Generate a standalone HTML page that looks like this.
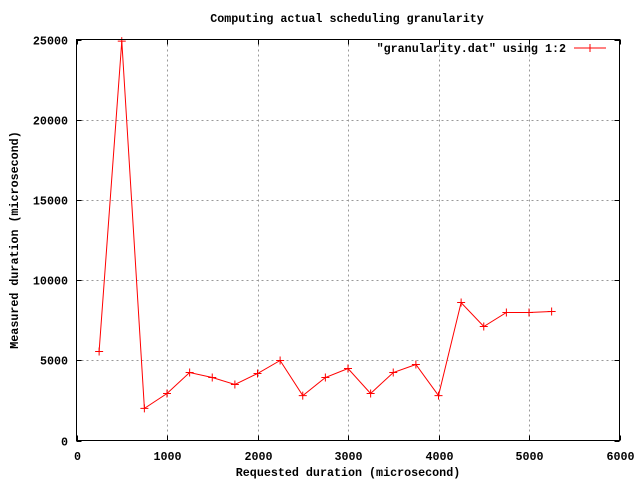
<!DOCTYPE html>
<html><head><meta charset="utf-8"><style>
body{margin:0;background:#fff}
svg text{font-family:"Liberation Mono","DejaVu Sans Mono",monospace;font-size:11.7px;font-weight:bold;fill:#000}
</style></head><body>
<svg id="chart" width="640" height="480" xmlns="http://www.w3.org/2000/svg">
<rect width="640" height="480" fill="#fff"/>
<g id="grid"></g><g id="ticks"></g><g id="series"></g>
<rect x="76.5" y="39.5" width="543" height="401" fill="none" stroke="#000"/>
<text x="347" y="22" text-anchor="middle">Computing actual scheduling granularity</text>
<text x="348" y="476" text-anchor="middle">Requested duration (microsecond)</text>
<text x="18" y="240" text-anchor="middle" transform="rotate(-90 18 240)">Measured duration (microsecond)</text>
<g>
<text x="566" y="52" text-anchor="end">"granularity.dat" using 1:2</text>
<line x1="574" y1="48" x2="606" y2="48" stroke="#f00"/>
<path d="M586 48h8M590 44v8" stroke="#f00"/>
</g>
</svg>
<script>
const xVals=[250,500,750,1000,1250,1500,1750,2000,2250,2500,2750,3000,3250,3500,3750,4000,4250,4500,4750,5000,5250];
const yVals=[5550,24900,2000,2930,4240,3930,3490,4180,4990,2800,3930,4490,2930,4240,4740,2800,8600,7110,7980,7980,8040];
const xTicks=[0,1000,2000,3000,4000,5000,6000];
const yTicks=[0,5000,10000,15000,20000,25000];
const L=76.5,R=619.5,T=39.5,B=440.5;
const sx=v=>L+(v-0)/6000*(R-L);
const sy=v=>B-(v-0)/25000*(B-T);
const NS="http://www.w3.org/2000/svg";
function mk(tag,attrs,parent){const e=document.createElementNS(NS,tag);for(const k in attrs)e.setAttribute(k,attrs[k]);document.getElementById(parent).appendChild(e);return e;}
xTicks.forEach(t=>{
  const x=Math.round(sx(t))+0.5;
  if(t>0&&t<6000){const g=mk('line',{x1:x,y1:T,x2:x,y2:B,stroke:'#999','stroke-dasharray':'2,3'},'grid');
  
  }
  mk('path',{d:`M${x} ${B}v-5M${x} ${T}v5`,stroke:'#000'},'ticks');
  const tx=mk('text',{x:x,y:460,'text-anchor':'middle'},'ticks');tx.textContent=t;
  
  
});
yTicks.forEach(t=>{
  const y=Math.round(sy(t))+0.5;
  if(t>0&&t<25000){const g=mk('line',{x1:L,y1:y,x2:R,y2:y,stroke:'#999','stroke-dasharray':'2,3'},'grid');
  
  }
  mk('path',{d:`M${L} ${y}h5M${R} ${y}h-5`,stroke:'#000'},'ticks');
  const tx=mk('text',{x:68,y:y+4,'text-anchor':'end'},'ticks');tx.textContent=t;
  
  
});
const pts=xVals.map((x,i)=>sx(x).toFixed(1)+','+sy(yVals[i]).toFixed(1)).join(' ');
const line=mk('polyline',{points:pts,fill:'none',stroke:'#f00'},'series');


xVals.forEach((x,i)=>{
  const px=sx(x),py=sy(yVals[i]);
  const m=mk('path',{d:`M${px-4} ${py}h8M${px} ${py-4}v8`,stroke:'#f00'},'series');
  
  
});
</script>
</body></html>
